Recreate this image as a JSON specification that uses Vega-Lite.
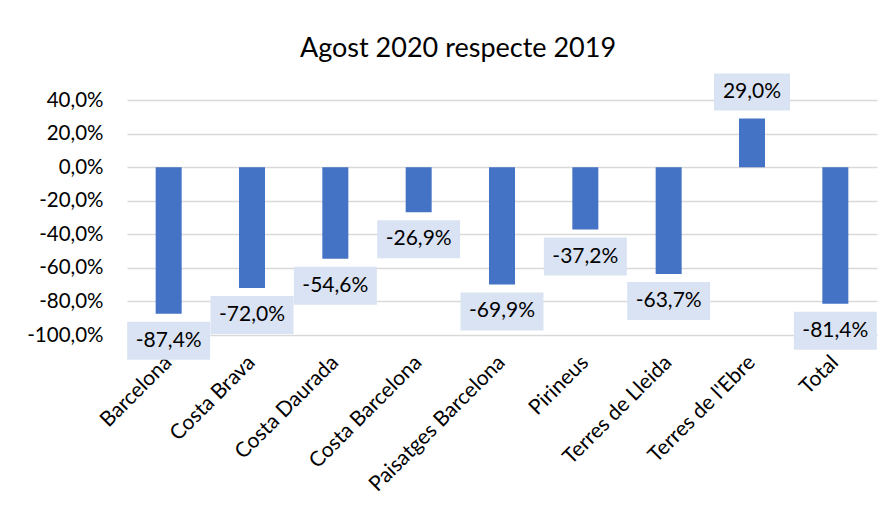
{
  "$schema": "https://vega.github.io/schema/vega-lite/v6.json",
  "autosize": "none",
  "padding": {"left": 127, "top": 100, "right": 13, "bottom": 183},
  "width": 750,
  "height": 235,
  "background": "white",
  "config": {
    "view": {"stroke": null},
    "font": "Lato",
    "locale": {
      "number": {"decimal": ",", "thousands": ".", "grouping": [3], "currency": ["", " €"], "minus": "-", "percent": "%"}
    },
    "title": {"font": "Lato", "fontSize": 27, "fontWeight": "normal", "color": "#000000"}
  },
  "title": {"text": "Agost 2020 respecte 2019", "anchor": "middle", "offset": 10, "dx": -44},
  "data": {
    "values": [
      {"destinacio": "Barcelona", "variacio": -0.874},
      {"destinacio": "Costa Brava", "variacio": -0.720},
      {"destinacio": "Costa Daurada", "variacio": -0.546},
      {"destinacio": "Costa Barcelona", "variacio": -0.269},
      {"destinacio": "Paisatges Barcelona", "variacio": -0.699},
      {"destinacio": "Pirineus", "variacio": -0.372},
      {"destinacio": "Terres de Lleida", "variacio": -0.637},
      {"destinacio": "Terres de l'Ebre", "variacio": 0.290},
      {"destinacio": "Total", "variacio": -0.814}
    ]
  },
  "encoding": {
    "x": {
      "field": "destinacio",
      "type": "nominal",
      "sort": null,
      "scale": {"paddingInner": 0, "paddingOuter": 0},
      "axis": {
        "title": null,
        "domain": false,
        "ticks": false,
        "labelAngle": -45,
        "labelAlign": "right",
        "labelBaseline": "middle",
        "labelPadding": 24,
        "labelLimit": 400,
        "labelFont": "Lato",
        "labelFontSize": 21,
        "labelColor": "#000000"
      }
    }
  },
  "layer": [
    {
      "mark": {"type": "bar", "color": "#4472C4", "width": 26},
      "encoding": {
        "y": {
          "field": "variacio",
          "type": "quantitative",
          "scale": {"domain": [-1, 0.4], "nice": false},
          "axis": {
            "title": null,
            "domain": false,
            "ticks": false,
            "values": [-1, -0.8, -0.6, -0.4, -0.2, 0, 0.2, 0.4],
            "tickCount": 20,
            "format": ".1%",
            "labelOverlap": false,
            "labelPadding": 24,
            "labelFont": "Lato",
            "labelFontSize": 20.5,
            "labelColor": "#000000",
            "grid": true,
            "gridColor": "#D9D9D9",
            "gridWidth": 1.5
          }
        },
        "y2": {"datum": 0}
      }
    },
    {
      "transform": [{"filter": "datum.variacio < 0"}],
      "mark": {"type": "bar", "color": "#DAE3F3", "width": 83, "yOffset": 8, "y2Offset": 46},
      "encoding": {
        "y": {"field": "variacio", "type": "quantitative"},
        "y2": {"field": "variacio"}
      }
    },
    {
      "transform": [{"filter": "datum.variacio >= 0"}],
      "mark": {"type": "bar", "color": "#DAE3F3", "width": 76, "yOffset": -45, "y2Offset": -8},
      "encoding": {
        "y": {"field": "variacio", "type": "quantitative"},
        "y2": {"field": "variacio"}
      }
    },
    {
      "transform": [{"filter": "datum.variacio < 0"}],
      "mark": {"type": "text", "font": "Lato", "fontSize": 21, "color": "#000000", "baseline": "middle", "yOffset": 27},
      "encoding": {
        "y": {"field": "variacio", "type": "quantitative"},
        "text": {"field": "variacio", "type": "quantitative", "format": ".1%"}
      }
    },
    {
      "transform": [{"filter": "datum.variacio >= 0"}],
      "mark": {"type": "text", "font": "Lato", "fontSize": 21, "color": "#000000", "baseline": "middle", "yOffset": -26},
      "encoding": {
        "y": {"field": "variacio", "type": "quantitative"},
        "text": {"field": "variacio", "type": "quantitative", "format": ".1%"}
      }
    }
  ]
}
